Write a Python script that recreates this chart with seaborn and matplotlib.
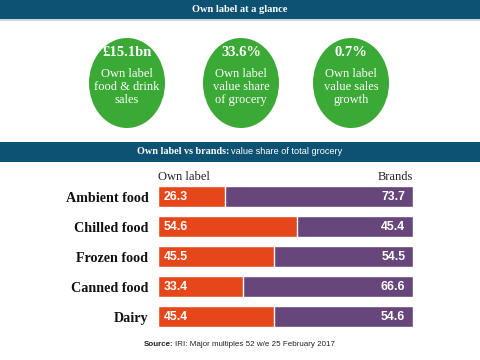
import numpy as np
import pandas as pd
import matplotlib.pyplot as plt
import seaborn as sns
from matplotlib.patches import Ellipse, Rectangle

# data
categories = ['Ambient food', 'Chilled food', 'Frozen food', 'Canned food', 'Dairy']
own_label = [26.3, 54.6, 45.5, 33.4, 45.4]
brands = [73.7, 45.4, 54.5, 66.6, 54.6]

kpi_values = ['£15.1bn', '33.6%', '0.7%']
kpi_labels = ['Own label\nfood & drink\nsales', 'Own label\nvalue share\nof grocery', 'Own label\nvalue sales\ngrowth']

NAVY = '#0e5273'
GREEN = '#3aa935'
ORANGE = '#e5471b'
PURPLE = '#66467b'
SERIF = 'Liberation Serif'
SANS = 'Liberation Sans'

sns.set_theme(style='white')

df = pd.DataFrame({'category': categories, 'own': own_label, 'brands': brands})
df['total'] = df['own'] + df['brands']

fig = plt.figure(figsize=(4.8, 3.6), dpi=100)
fig.patch.set_facecolor('white')

# background axes in pixel coordinates for banners and circles
bg = fig.add_axes([0, 0, 1, 1])
bg.set_xlim(0, 480)
bg.set_ylim(360, 0)
bg.axis('off')

bg.add_patch(Rectangle((0, 0), 480, 19, color=NAVY, lw=0))
bg.add_patch(Rectangle((0, 19), 480, 1.5, color='#c9d6de', lw=0))
bg.text(240, 10, 'Own label at a glance', color='white', fontsize=7.5,
        fontweight='bold', family=SERIF, ha='center', va='center')

centers = [127, 241, 351]
for cx, val, lab in zip(centers, kpi_values, kpi_labels):
    bg.add_patch(Ellipse((cx, 83), 76, 90, color=GREEN, lw=0))
    bg.text(cx, 53, val, color='white', fontsize=10.5, fontweight='bold',
            family=SERIF, ha='center', va='center')
    bg.text(cx, 87, lab, color='white', fontsize=9, family=SERIF,
            ha='center', va='center', linespacing=1.08)

bg.add_patch(Rectangle((0, 142), 480, 20, color=NAVY, lw=0))
bg.text(229, 152, 'Own label vs brands:', color='white', fontsize=7.3,
        fontweight='bold', family=SERIF, ha='right', va='center')
bg.text(231, 152, 'value share of total grocery', color='white', fontsize=6.6,
        family=SANS, ha='left', va='center')

bg.text(158, 177, 'Own label', color='#222222', fontsize=9, family=SERIF,
        ha='left', va='center')
bg.text(413, 177, 'Brands', color='#222222', fontsize=9, family=SERIF,
        ha='right', va='center')

bg.text(173, 344, 'Source:', color='#222222', fontsize=5.8, fontweight='bold',
        family=SANS, ha='right', va='center')
bg.text(175, 344, 'IRI: Major multiples 52 w/e 25 February 2017', color='#222222',
        fontsize=5.8, family=SANS, ha='left', va='center')

# bar chart
ax = fig.add_axes([158 / 480, 1 - 331.5 / 360, 255 / 480, 149.5 / 360])
sns.barplot(data=df, x='total', y='category', orient='h', color=PURPLE,
            width=0.7, saturation=1, ax=ax)
sns.barplot(data=df, x='own', y='category', orient='h', color=ORANGE,
            width=0.7, saturation=1, ax=ax)
ax.set_xlim(0, 100)
ax.set_ylim(4.5, -0.5)
ax.set_xlabel('')
ax.set_ylabel('')
ax.set_xticks([])
ax.tick_params(axis='y', length=0, pad=7)
ax.set_yticks(range(len(categories)))
ax.set_yticklabels(categories, fontsize=10.2, fontweight='bold', family=SERIF, color='#111111')
for s in ax.spines.values():
    s.set_visible(False)
ax.patch.set_alpha(0)

for i, (o, b) in enumerate(zip(own_label, brands)):
    ax.text(2.3, i, f'{o:.1f}', color='white', fontsize=8.8, fontweight='bold',
            family=SANS, ha='left', va='center')
    ax.text(o + b - 3, i, f'{b:.1f}', color='white', fontsize=8.8, fontweight='bold',
            family=SANS, ha='right', va='center')

fig.savefig('out.png', dpi=100)
